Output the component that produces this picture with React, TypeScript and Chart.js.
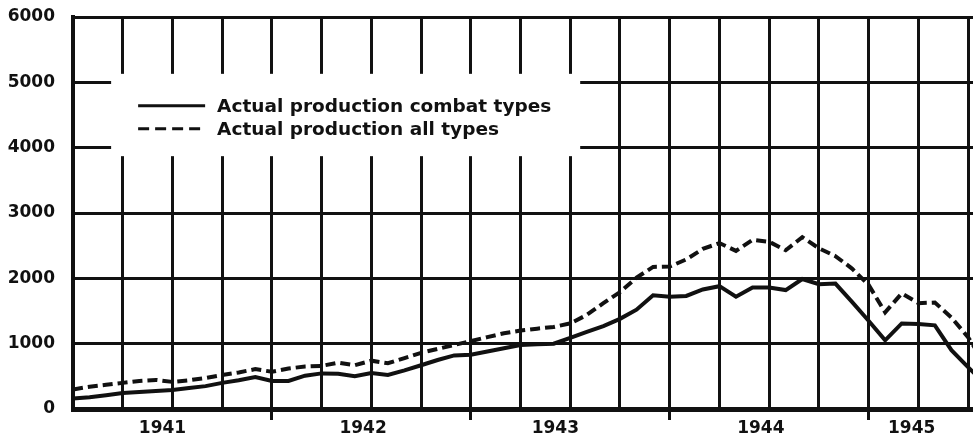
import React, { useEffect, useRef } from "react";
import { Chart, registerables } from "chart.js";

Chart.register(...registerables);

// months since January 1941
const monthIndex = [
  0, 1, 2, 3, 4, 5, 6, 7, 8, 9, 10, 11,
  12, 13, 14, 15, 16, 17, 18, 19, 20, 21, 22, 23,
  24, 25, 26, 27, 28, 29, 30, 31, 32, 33, 34, 35,
  36, 37, 38, 39, 40, 41, 42, 43, 44, 45, 46, 47,
  48, 49, 50, 51, 52, 53, 54, 55,
];

const combatTypes = [
  160, 180, 210, 245, 260, 275, 290, 320, 350, 400, 440, 490,
  430, 430, 510, 545, 540, 500, 550, 520, 590, 670, 750, 820,
  830, 880, 930, 980, 990, 1000, 1090, 1180, 1270, 1380, 1520, 1740,
  1720, 1730, 1830, 1880, 1720, 1860, 1860, 1820, 1990, 1910, 1920, 1640,
  1350, 1050, 1310, 1300, 1280, 900, 640, 400,
];

const allTypes = [
  300, 340, 370, 400, 430, 445, 415, 440, 475, 520, 560, 610,
  570, 620, 650, 660, 710, 670, 740, 700, 780, 860, 920, 980,
  1040, 1100, 1160, 1200, 1230, 1255, 1310, 1440, 1620, 1790, 2010, 2175,
  2180, 2290, 2450, 2540, 2420, 2590, 2560, 2430, 2630, 2460, 2340, 2150,
  1900, 1480, 1770, 1620, 1630, 1400, 1100, 700,
];

const seriesNames = ["Actual production combat types", "Actual production all types"];

const yearLabels = ["1941", "1942", "1943", "1944", "1945"];
const yearLabelPos = [5.4, 17.5, 29.1, 41.5, 50.6];
const quarterTicks = [0, 3, 6, 9, 12, 15, 18, 21, 24, 27, 30, 33, 36, 39, 42, 45, 48, 51, 54];
const yTicks = [0, 1000, 2000, 3000, 4000, 5000, 6000];

const INK = "#111";
const FONT = "'DejaVu Sans', 'Liberation Sans', sans-serif";
const X_MAX = 54.3;

export default function App() {
  const ref = useRef<HTMLCanvasElement>(null);

  useEffect(() => {
    document.body.style.margin = "0";
    const canvas = ref.current;
    if (!canvas) return;

    const knockoutLegend = {
      id: "knockoutLegend",
      beforeDatasetsDraw(chart: any) {
        const { ctx, scales } = chart;
        const xs = scales.x;
        const ys = scales.y;
        const bx0 = xs.getPixelForValue(2.3);
        const bx1 = xs.getPixelForValue(30.6);
        const by0 = ys.getPixelForValue(5130);
        const by1 = ys.getPixelForValue(3870);
        ctx.save();
        ctx.fillStyle = "#fff";
        ctx.fillRect(bx0, by0, bx1 - bx0, by1 - by0);
        const rows = [by0 + 32, by0 + 55];
        chart.data.datasets.forEach((ds: any, i: number) => {
          const ry = rows[i];
          ctx.beginPath();
          ctx.strokeStyle = INK;
          ctx.lineWidth = 3;
          ctx.setLineDash(ds.borderDash ? [11, 6] : []);
          ctx.moveTo(bx0 + 27, ry);
          ctx.lineTo(bx0 + 94, ry);
          ctx.stroke();
          ctx.setLineDash([]);
          ctx.fillStyle = INK;
          ctx.font = `bold 18.5px ${FONT}`;
          ctx.textBaseline = "middle";
          ctx.textAlign = "left";
          ctx.fillText(ds.label, bx0 + 106, ry + 1);
        });
        ctx.restore();
      },
    };

    const chart = new Chart(canvas, {
      type: "line",
      data: {
        datasets: [
          {
            label: seriesNames[0],
            data: monthIndex.map((m, i) => ({ x: m, y: combatTypes[i] })),
            borderColor: INK,
            borderWidth: 4,
            pointRadius: 0,
            tension: 0,
            fill: false,
          },
          {
            label: seriesNames[1],
            data: monthIndex.map((m, i) => ({ x: m, y: allTypes[i] })),
            borderColor: INK,
            borderWidth: 4,
            borderDash: [10, 5],
            pointRadius: 0,
            tension: 0,
            fill: false,
          },
        ],
      },
      options: {
        responsive: false,
        animation: false,
        layout: { padding: { top: 17, right: 0, bottom: 0, left: 0 } },
        plugins: { legend: { display: false }, tooltip: { enabled: false } },
        scales: {
          x: {
            type: "linear",
            position: "bottom",
            min: 0,
            max: X_MAX,
            afterBuildTicks: (s: any) => {
              s.ticks = quarterTicks.map((v) => ({ value: v }));
            },
            ticks: { display: false },
            grid: {
              color: INK,
              lineWidth: 3,
              drawTicks: true,
              tickLength: 11,
              tickWidth: 3,
              tickColor: (c: any) =>
                c.tick && c.tick.value > 0 && c.tick.value % 12 === 0 ? INK : "rgba(0,0,0,0)",
            },
            border: { color: INK, width: 5 },
            afterFit: (s: any) => {
              s.height = 0;
            },
          },
          x2: {
            type: "linear",
            position: "bottom",
            min: 0,
            max: X_MAX,
            afterBuildTicks: (s: any) => {
              s.ticks = yearLabelPos.map((v) => ({ value: v }));
            },
            grid: { display: false },
            border: { display: false },
            ticks: {
              autoSkip: false,
              maxRotation: 0,
              padding: 1,
              color: INK,
              font: { family: FONT, size: 17, weight: "bold" },
              callback: (_v: any, i: number) => yearLabels[i],
            },
            afterFit: (s: any) => {
              s.height = 26;
            },
          },
          y: {
            min: 0,
            max: 6000,
            afterBuildTicks: (s: any) => {
              s.ticks = yTicks.map((v) => ({ value: v }));
            },
            ticks: {
              padding: 0,
              color: INK,
              font: { family: FONT, size: 17, weight: "bold" },
              callback: (v: any) => String(v),
            },
            grid: {
              color: INK,
              lineWidth: 3,
              drawTicks: true,
              tickLength: 18,
              tickColor: "rgba(0,0,0,0)",
            },
            border: { color: INK, width: 4 },
            afterFit: (s: any) => {
              s.width = 73;
            },
          },
        },
      } as any,
      plugins: [knockoutLegend],
    });

    return () => chart.destroy();
  }, []);

  return (
    <div style={{ width: 973, height: 435 }}>
      <canvas ref={ref} width={973} height={435} style={{ display: "block" }} />
    </div>
  );
}
